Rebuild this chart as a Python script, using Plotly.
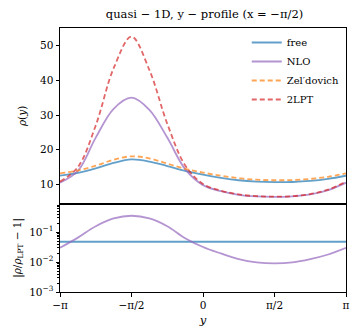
import numpy as np
import plotly.graph_objects as go
from plotly.subplots import make_subplots

# grid of y positions (multiples of pi/8)
Y_GRID = [k * np.pi / 8 for k in range(-8, 9)]

free = [12.5, 13.3, 14.6, 16.2, 17.2, 16.6, 15.3, 13.9, 12.8, 11.9, 11.2, 10.8, 10.65, 10.7, 11.0, 11.6, 12.5]
nlo = [10.5, 13.9, 23.5, 31.8, 35.0, 31.5, 23.5, 14.4, 9.8, 8.05, 7.0, 6.53, 6.39, 6.55, 7.1, 8.35, 10.5]
zeldovich = [13.2, 14.0, 15.4, 17.1, 18.1, 17.5, 16.0, 14.5, 13.4, 12.5, 11.8, 11.35, 11.2, 11.25, 11.6, 12.2, 13.2]
lpt2 = [10.8, 15.0, 27.0, 43.5, 52.6, 43.0, 27.5, 15.5, 10.1, 8.2, 7.1, 6.6, 6.45, 6.6, 7.2, 8.5, 10.8]

ratio_nlo = [0.0302, 0.066, 0.158, 0.288, 0.355, 0.288, 0.158, 0.063, 0.032, 0.0195, 0.0126, 0.0098, 0.0091, 0.0098, 0.0126, 0.018, 0.030]
ratio_free_x = [-np.pi, np.pi]
ratio_free = [0.048, 0.048]

x_tickvals = [-np.pi, -np.pi / 2, 0, np.pi / 2, np.pi]
x_ticktext = ["−π", "−π/2", "0", "π/2", "π"]

C_BLUE = "rgba(31,119,180,0.7)"
C_PURPLE = "rgba(148,103,189,0.7)"
C_ORANGE = "rgba(255,127,14,0.7)"
C_RED = "rgba(214,39,40,0.7)"

FONT = "DejaVu Serif"

fig = make_subplots(rows=2, cols=1, shared_xaxes=True, vertical_spacing=0,
                    row_heights=[0.666, 0.334])

lw = 1.8
fig.add_trace(go.Scatter(x=Y_GRID, y=free, name="free", mode="lines",
                         line=dict(color=C_BLUE, width=lw, shape="spline")), row=1, col=1)
fig.add_trace(go.Scatter(x=Y_GRID, y=nlo, name="NLO", mode="lines",
                         line=dict(color=C_PURPLE, width=lw, shape="spline")), row=1, col=1)
fig.add_trace(go.Scatter(x=Y_GRID, y=zeldovich, name="Zel′dovich", mode="lines",
                         line=dict(color=C_ORANGE, width=lw, shape="spline", dash="5px,3px")), row=1, col=1)
fig.add_trace(go.Scatter(x=Y_GRID, y=lpt2, name="2LPT", mode="lines",
                         line=dict(color=C_RED, width=lw, shape="spline", dash="5px,3px")), row=1, col=1)

fig.add_trace(go.Scatter(x=ratio_free_x, y=ratio_free, mode="lines", showlegend=False,
                         line=dict(color=C_BLUE, width=lw)), row=2, col=1)
fig.add_trace(go.Scatter(x=Y_GRID, y=ratio_nlo, mode="lines", showlegend=False,
                         line=dict(color=C_PURPLE, width=lw, shape="spline")), row=2, col=1)

axis_common = dict(showline=True, linecolor="black", linewidth=1, mirror=True,
                   showgrid=False, zeroline=False, ticks="outside", ticklen=3.5,
                   tickwidth=0.8, tickcolor="black",
                   tickfont=dict(family=FONT, size=10.5, color="black"))

fig.update_xaxes(**axis_common, range=[-np.pi, np.pi], tickvals=x_tickvals, ticktext=x_ticktext)
fig.update_xaxes(showticklabels=False, ticks="", row=1, col=1)
fig.update_xaxes(title=dict(text="<i>y</i>", font=dict(family=FONT, size=11.5, color="black"), standoff=5),
                 row=2, col=1)

fig.update_yaxes(**axis_common)
fig.update_yaxes(range=[4.4, 55.1], tickvals=[10, 20, 30, 40, 50],
                 title=dict(text="<i>ρ</i>(<i>y</i>)", font=dict(family=FONT, size=10.5, color="black"), standoff=11),
                 row=1, col=1)
minor_vals = [m * 10 ** e for e in (-3, -2, -1) for m in range(2, 10)]
fig.update_yaxes(type="log", range=[-3, -0.05], tickvals=[1e-3, 1e-2, 1e-1],
                 ticktext=["10<sup>−3</sup>", "10<sup>−2</sup>", "10<sup>−1</sup>"],
                 minor=dict(tickvals=minor_vals, ticks="outside", ticklen=2, tickwidth=0.6, tickcolor="black"),
                 title=dict(text="|<i>ρ</i>/<i>ρ</i><sub>LPT</sub> − 1|", font=dict(family=FONT, size=10.5, color="black"), standoff=5),
                 row=2, col=1)

fig.update_layout(
    width=362, height=336,
    margin=dict(l=60, r=13, t=28, b=44),
    paper_bgcolor="white", plot_bgcolor="white",
    font=dict(family=FONT, size=10.5, color="black"),
    title=dict(text="quasi − 1D, y − profile (x = −π/2)", x=0.565, xanchor="center",
               y=0.958, yanchor="middle", font=dict(family=FONT, size=11.5, color="black")),
    legend=dict(x=0.653, y=1.0, xanchor="left", yanchor="top", bgcolor="rgba(0,0,0,0)",
                font=dict(family=FONT, size=10, color="black"), tracegroupgap=0,
                itemwidth=30),
    showlegend=True,
)

fig.write_html("out.html", config={"displayModeBar": False},
               post_script="document.body.style.margin='0';document.body.style.padding='0';")
